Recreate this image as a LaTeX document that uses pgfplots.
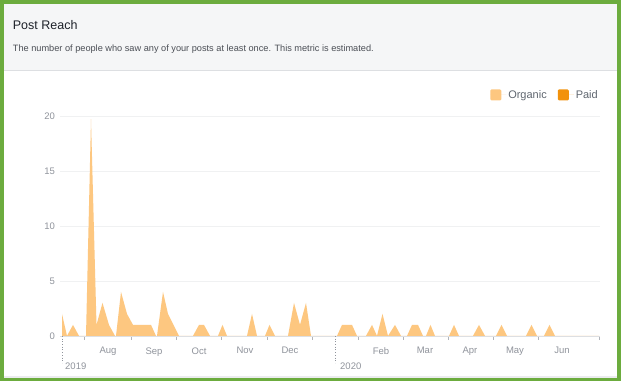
\documentclass[border=0pt]{standalone}
\usepackage{pgfplots}
\pgfplotsset{compat=1.18}
\usepackage{fontspec}
\setmainfont{Liberation Sans}
\definecolor{fbgreen}{RGB}{108,172,62}
\definecolor{hdr}{RGB}{245,246,247}
\definecolor{sepc}{RGB}{221,223,226}
\definecolor{titlec}{RGB}{29,33,41}
\definecolor{subc}{RGB}{75,79,86}
\definecolor{tickc}{RGB}{144,148,156}
\definecolor{gridc}{RGB}{240,241,242}
\definecolor{legc}{RGB}{96,103,112}
\definecolor{organic}{RGB}{253,199,128}
\definecolor{paid}{RGB}{242,146,12}
\begin{document}
\begin{tikzpicture}[x=1pt,y=1pt]
\useasboundingbox (0,0) rectangle (621,381);
\fill[fbgreen] (0,0) rectangle (621,381);
\fill[white] (4,3) rectangle (617,377);
\fill[sepc!60] (4,3) rectangle (617,5.5);
\fill[hdr] (4,311) rectangle (617,377);
\draw[sepc, line width=0.8pt] (4,311) -- (617,311);
\node[anchor=west, text=titlec, font=\fontsize{12.5}{15}\selectfont, inner sep=0] at (12.7,356) {Post Reach};
\node[anchor=west, text=subc, font=\fontsize{9.2}{11}\selectfont, inner sep=0] at (12.7,331.5) {The number of people who saw any of your posts at least once. This metric is estimated.};
\begin{axis}[
  at={(60,41)}, anchor=south west, scale only axis,
  width=540pt, height=220pt,
  xmin=60, xmax=600, ymin=0, ymax=20,
  axis line style={draw=none},
  tick align=outside, xtick pos=lower,
  xtick={108,154,199,245,290,381,425,470,515,562},
  xticklabels={Aug,Sep,Oct,Nov,Dec,Feb,Mar,Apr,May,Jun},
  minor xtick={84,131,176,221,267,312,358,403,448,493,538,599},
  major tick length=0pt, minor tick length=4pt,
  minor tick style={tickc!70, line width=0.6pt},
  ytick={0,5,10,15,20},
  ymajorgrids, grid style={gridc, line width=0.6pt},
  ticklabel style={font=\fontsize{9.5}{11}\selectfont, text=tickc, /pgf/number format/assume math mode=true},
  xticklabel style={yshift=-8pt},
  yticklabel style={xshift=-1.5pt},
  clip=false,
  legend style={at={(1,1)}, anchor=south east, draw=none, fill=none, yshift=12pt, xshift=3pt,
    legend columns=2, font=\fontsize{11}{12}\selectfont, text=legc,
    /tikz/every even column/.append style={column sep=9pt}},
  legend image code/.code={\fill[#1, rounded corners=1.2pt] (0pt,-5.5pt) rectangle (11pt,5.5pt);\path (0pt,0pt) -- (16pt,0pt);},
]
\draw[sepc, line width=0.8pt] (axis cs:60,0) -- (axis cs:600,0);
\addplot[fill=organic, draw=none] coordinates {
(62,0) (62,2) (67,0) (73,1) (79,0) (86,0) (91,19.7) (96.5,1) (102.5,3) (109,1) (115,0)
(116,0) (121,4) (127,2) (133,1) (151,1) (156,0) (157,0) (163,4) (168,2) (173.5,1) (179,0)
(193,0) (199,1) (204,1) (210,0) (218,0) (222.5,1) (227,0)
(247,0) (252,2) (257,0) (265,0) (269.5,1) (275,0)
(288,0) (294,3) (300,1) (306,3) (311,0)
(337,0) (342,1) (352,1) (357,0) (366,0) (372,1) (377,0) (382.5,2) (388,0) (395,1) (401,0)
(407,0) (412,1) (418,1) (423,0) (426,0) (430.5,1) (435,0)
(449,0) (454,1) (459,0) (473,0) (479,1) (485,0) (496,0) (501.5,1) (507,0)
(526,0) (531.5,1) (537,0) (544,0) (549.5,1) (555,0) (599,0)
} \closedcycle;
\addlegendentry{Organic}
\addlegendimage{fill=paid, draw=none}
\addlegendentry{Paid}
\draw[tickc, dotted, line width=0.7pt] (axis cs:62,0) -- ([yshift=-27pt]axis cs:62,0);
\draw[tickc, dotted, line width=0.7pt] (axis cs:335,0) -- ([yshift=-27pt]axis cs:335,0);
\node[anchor=west, text=tickc, font=\fontsize{9.5}{11}\selectfont, inner sep=0] at ([yshift=-30pt]axis cs:65,0) {2019};
\node[anchor=west, text=tickc, font=\fontsize{9.5}{11}\selectfont, inner sep=0] at ([yshift=-30pt]axis cs:340,0) {2020};
\end{axis}
\end{tikzpicture}
\end{document}
